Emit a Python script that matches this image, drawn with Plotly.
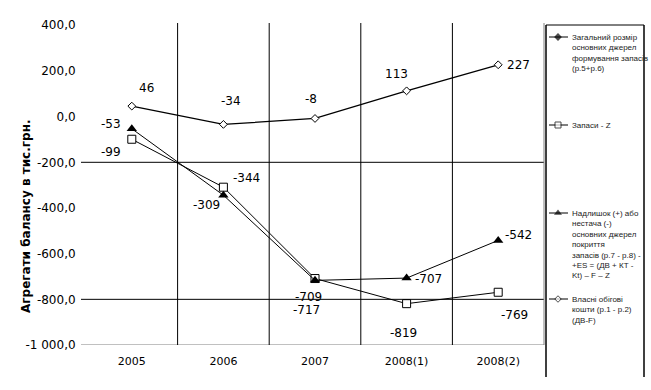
import plotly.graph_objects as go

# ---------------- data ----------------
categories = ["2005", "2006", "2007", "2008(1)", "2008(2)"]
own_working_capital = [46, -34, -8, 113, 227]          # open diamond
inventories_z = [-99, -309, -709, -819, -769]           # open square
surplus_shortage = [-53, -344, -717, -707, -542]        # filled triangle
total_sources = [None, None, None, None, None]          # filled diamond (off-scale)

y_ticks = [-1000, -800, -600, -400, -200, 0, 200, 400]

legend_names = [
    "Загальний розмір<br>основних джерел<br>формування запасів<br>(р.5+р.6)",
    "Запаси - Z",
    "Надлишок (+) або<br>нестача (-)<br>основних джерел<br>покриття<br>запасів (р.7 - р.8) -<br>+ES = (ДВ + КТ -<br>Kt) – F – Z",
    "Власні обігові<br>кошти (р.1 - р.2)<br>(ДВ-F)",
]

# ---------------- label offsets (px) ----------------
off_diamond = [(15, 18), (8, 23), (-4, 19), (-10, 17), (20, 0)]
off_square = [(-21, -13), (-17, -18), (-7, -18), (-3, -29), (16, -23)]
off_triangle = [(-21, 5), (23, 17), (-9, -30), (22, -1), (20, 5)]

# ---------------- geometry ----------------
W, H = 651, 390
ML, MT, MB = 86, 23, 45
PW = W - ML
PH = H - MT - MB
PLOT_RIGHT = 544
xd_end = (PLOT_RIGHT - ML) / PW


def px_x(px):
    return (px - ML) / PW


def px_y(py):
    return 1 - (py - MT) / PH


def fmt_tick(v):
    return f"{v:,.1f}".replace(",", " ").replace(".", ",")


FONT = "DejaVu Sans"
fig = go.Figure()

fig.add_trace(go.Scatter(
    x=categories, y=total_sources, mode="lines+markers", name="total",
    line=dict(color="black", width=1),
    marker=dict(symbol="diamond", size=7, color="black"), showlegend=False))
fig.add_trace(go.Scatter(
    x=categories, y=own_working_capital, mode="lines+markers",
    line=dict(color="black", width=1.3),
    marker=dict(symbol="diamond", size=6, color="white", line=dict(color="black", width=1)),
    showlegend=False))
fig.add_trace(go.Scatter(
    x=categories, y=inventories_z, mode="lines+markers",
    line=dict(color="black", width=1),
    marker=dict(symbol="square", size=8, color="white", line=dict(color="black", width=1)),
    showlegend=False))
fig.add_trace(go.Scatter(
    x=categories, y=surplus_shortage, mode="lines+markers",
    line=dict(color="black", width=1),
    marker=dict(symbol="triangle-up", size=9, color="black"),
    showlegend=False))

annotations = []
for series, offs in ((own_working_capital, off_diamond),
                     (inventories_z, off_square),
                     (surplus_shortage, off_triangle)):
    for i, (v, (dx, dy)) in enumerate(zip(series, offs)):
        annotations.append(dict(x=i, y=v, xref="x", yref="y", text=str(v),
                                showarrow=False, xshift=dx, yshift=dy,
                                font=dict(family=FONT, size=12, color="black")))

# axis title
annotations.append(dict(x=px_x(26), y=px_y(217), xref="paper", yref="paper",
                        xanchor="center", yanchor="middle",
                        text="<b>Агрегати балансу в тис.грн.</b>", textangle=-90,
                        showarrow=False,
                        font=dict(family=FONT, size=12, color="black")))

# legend (manual)
leg_y = [37, 125, 213, 299]
leg_sym = [dict(symbol="diamond", size=6, color="black"),
           dict(symbol="square", size=6, color="white", line=dict(color="black", width=1)),
           dict(symbol="triangle-up", size=7, color="black"),
           dict(symbol="diamond", size=5, color="white", line=dict(color="black", width=1))]
for name, yy, sym in zip(legend_names, leg_y, leg_sym):
    fig.add_trace(go.Scatter(x=[549, 558, 568], y=[yy, yy, yy], xaxis="x2", yaxis="y2",
                             mode="lines+markers", showlegend=False, hoverinfo="skip",
                             line=dict(color="black", width=1),
                             marker=dict(size=[0, sym["size"], 0], symbol=sym["symbol"],
                                         color=sym["color"], line=sym.get("line", dict(width=0)))))
    annotations.append(dict(x=570, y=yy - 6, xref="x2", yref="y2", text=name,
                            xanchor="left", yanchor="top", align="left", showarrow=False,
                            font=dict(family="Liberation Sans", size=8, color="#222")))

shapes = []
# horizontal lines (-200, -800) with small tick stubs
for yv in (-200, -800):
    shapes.append(dict(type="line", xref="paper", yref="y", x0=px_x(81), x1=xd_end,
                       y0=yv, y1=yv, line=dict(color="black", width=1)))
shapes.append(dict(type="line", xref="paper", yref="y", x0=px_x(81), x1=xd_end,
                   y0=-1000, y1=-1000, line=dict(color="#808080", width=1)))
# vertical category separators
for xv in (0.5, 1.5, 2.5, 3.5):
    shapes.append(dict(type="line", xref="x", yref="paper", x0=xv, x1=xv, y0=0, y1=1,
                       line=dict(color="black", width=1)))
shapes.append(dict(type="line", xref="paper", yref="paper", x0=xd_end, x1=xd_end, y0=0, y1=1,
                   line=dict(color="#808080", width=1)))
# legend box
lx0, lx1, ly0, ly1 = px_x(546), px_x(644), px_y(25), px_y(377)
shapes += [
    dict(type="line", xref="paper", yref="paper", x0=lx0, x1=lx1, y0=ly0, y1=ly0, line=dict(color="black", width=1)),
    dict(type="line", xref="paper", yref="paper", x0=lx0, x1=lx0, y0=ly0, y1=ly1, line=dict(color="black", width=1.5)),
    dict(type="line", xref="paper", yref="paper", x0=lx1, x1=lx1, y0=ly0, y1=ly1, line=dict(color="black", width=1.5)),
]

fig.update_layout(
    width=W, height=H,
    margin=dict(l=ML, r=0, t=MT, b=MB),
    paper_bgcolor="white", plot_bgcolor="white",
    showlegend=False,
    xaxis=dict(domain=[0, xd_end], type="category", categoryorder="array",
               categoryarray=categories, range=[-0.5, 4.5],
               showgrid=False, zeroline=False, showline=False,
               ticks="outside", ticklen=6, tickcolor="rgba(0,0,0,0)",
               tickfont=dict(family=FONT, size=11, color="black")),
    yaxis=dict(range=[-1000, 410], tickvals=y_ticks,
               ticktext=[fmt_tick(v) for v in y_ticks],
               showgrid=False, zeroline=False, showline=False,
               ticks="outside", ticklen=7, tickcolor="rgba(0,0,0,0)",
               tickfont=dict(family=FONT, size=12, color="black")),
    xaxis2=dict(domain=[px_x(546), 1], range=[546, 651], visible=False, anchor="y2"),
    yaxis2=dict(domain=[0, 1], range=[MT + PH, MT], visible=False, anchor="x2"),
    annotations=annotations,
    shapes=shapes,
)

fig.write_html("out.html", config={"displayModeBar": False},
               post_script="document.body.style.margin='0';document.body.style.overflow='hidden';")
